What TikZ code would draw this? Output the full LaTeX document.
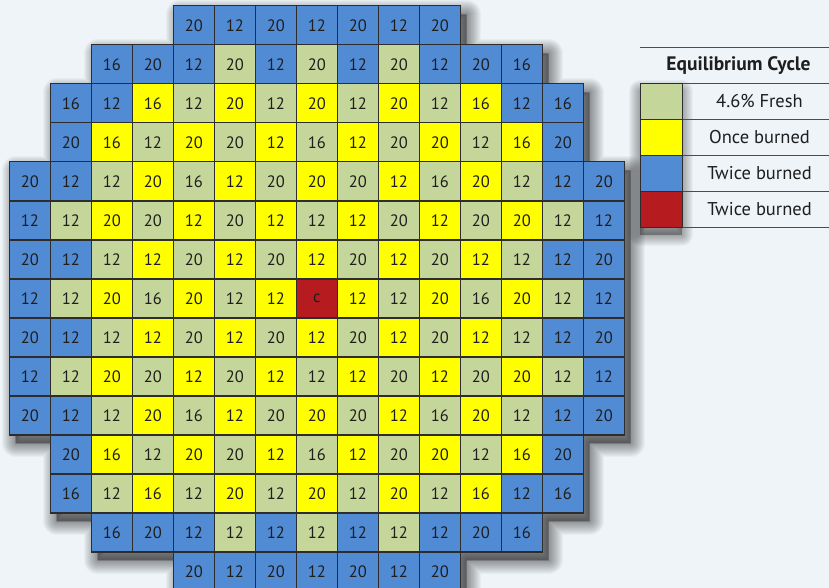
\documentclass[tikz,border=0pt]{standalone}
\usepackage{fontspec}
\setmainfont{PT Sans}
\definecolor{bg}{RGB}{238,244,248}
\definecolor{cB}{RGB}{81,139,212}
\definecolor{cG}{RGB}{197,214,155}
\definecolor{cY}{RGB}{255,255,0}
\definecolor{cR}{RGB}{181,27,31}
\definecolor{edge}{RGB}{45,45,45}
\definecolor{txt}{RGB}{30,30,30}
\tikzset{
  cell/.style={draw=edge, line width=1.2pt, minimum width=41pt, minimum height=39pt,
    anchor=north west, inner sep=0pt, font=\fontsize{16.5}{16.5}\selectfont, text=txt},
  swatch/.style={draw=edge, line width=1.1pt, minimum width=41.7pt, minimum height=36pt,
    anchor=north west, inner sep=0pt},
  legtext/.style={font=\fontsize{18.5}{18.5}\selectfont, text=txt, inner sep=0pt},
  legline/.style={draw=black!70, line width=0.8pt},
  shadowlayer/.style={black, opacity=0.032, line join=round}
}
\begin{document}
\begin{tikzpicture}[x=1pt,y=-1pt]
\fill[bg] (0,0) rectangle (829,588);
\useasboundingbox (0,0) rectangle (829,588);
\clip (0,0) rectangle (829,588);
% grid shadow
\foreach \w in {2,4,...,28}{
  \filldraw[shadowlayer, line width=\w pt, shift={(7,9)}]
    (172.7,5.3) -- (459.7,5.3) -- (459.7,44.3) -- (541.7,44.3) -- (541.7,83.3) -- (582.7,83.3)
    -- (582.7,161.3) -- (623.7,161.3) -- (623.7,434.3) -- (582.7,434.3) -- (582.7,512.3)
    -- (541.7,512.3) -- (541.7,551.3) -- (459.7,551.3) -- (459.7,590.3) -- (172.7,590.3)
    -- (172.7,551.3) -- (90.7,551.3) -- (90.7,512.3) -- (49.7,512.3) -- (49.7,434.3)
    -- (8.7,434.3) -- (8.7,161.3) -- (49.7,161.3) -- (49.7,83.3) -- (90.7,83.3)
    -- (90.7,44.3) -- (172.7,44.3) -- cycle;
}
% legend shadow
\foreach \w in {2,4,...,22}{
  \filldraw[shadowlayer, line width=\w pt, shift={(0,8)}] (640,83.3) rectangle (681.7,227.3);
}
% grid cells
\foreach \r/\s/\cells in {
0/4/{B/20,B/12,B/20,B/12,B/20,B/12,B/20},
1/2/{B/16,B/20,B/12,G/20,B/12,G/20,B/12,G/20,B/12,B/20,B/16},
2/1/{B/16,B/12,Y/16,G/12,Y/20,G/12,Y/20,G/12,Y/20,G/12,Y/16,B/12,B/16},
3/1/{B/20,Y/16,G/12,Y/20,G/20,Y/12,G/16,Y/12,G/20,Y/20,G/12,Y/16,B/20},
4/0/{B/20,B/12,G/12,Y/20,G/16,Y/12,G/20,Y/20,G/20,Y/12,G/16,Y/20,G/12,B/12,B/20},
5/0/{B/12,G/12,Y/20,G/20,Y/12,G/20,Y/12,G/12,Y/12,G/20,Y/12,G/20,Y/20,G/12,B/12},
6/0/{B/20,B/12,G/12,Y/12,G/20,Y/12,G/20,Y/12,G/20,Y/12,G/20,Y/12,G/12,B/12,B/20},
7/0/{B/12,G/12,Y/20,G/16,Y/20,G/12,Y/12,R/c,Y/12,G/12,Y/20,G/16,Y/20,G/12,B/12},
8/0/{B/20,B/12,G/12,Y/12,G/20,Y/12,G/20,Y/12,G/20,Y/12,G/20,Y/12,G/12,B/12,B/20},
9/0/{B/12,G/12,Y/20,G/20,Y/12,G/20,Y/12,G/12,Y/12,G/20,Y/12,G/20,Y/20,G/12,B/12},
10/0/{B/20,B/12,G/12,Y/20,G/16,Y/12,G/20,Y/20,G/20,Y/12,G/16,Y/20,G/12,B/12,B/20},
11/1/{B/20,Y/16,G/12,Y/20,G/20,Y/12,G/16,Y/12,G/20,Y/20,G/12,Y/16,B/20},
12/1/{B/16,G/12,Y/16,G/12,Y/20,G/12,Y/20,G/12,Y/20,G/12,Y/16,B/12,B/16},
13/2/{B/16,B/20,B/12,G/12,B/12,G/12,B/12,G/12,B/12,B/20,B/16},
14/4/{B/20,B/12,B/20,B/12,B/20,B/12,B/20}}{
  \foreach \cc/\v [count=\k from 0] in \cells {
    \pgfmathtruncatemacro\cn{\s+\k}
    \node[cell, fill=c\cc] (cell-\r-\cn) at ({8.7+41*\cn},{5.3+39*\r}) {\v};
  }
}
% legend
\coordinate (tl) at (640,47.3);
\coordinate (tr) at (829,47.3);
\draw[legline] (tl) -- (tr);
\node[font=\bfseries\fontsize{19.5}{19.5}\selectfont, text=txt, inner sep=0pt] (title) at (738.5,65.5) {Equilibrium Cycle};
\foreach \i/\col/\lab in {1/cG/{4.6\% Fresh},2/cY/{Once burned},3/cB/{Twice burned},4/cR/{Twice burned}}{
  \coordinate (ra\i) at (681.7,{83.3+36*(\i-1)});
  \coordinate (rb\i) at (829,{83.3+36*(\i-1)});
  \draw[legline] (ra\i) -- (rb\i);
  \node[legtext] (lg\i) at (759.5,{101.3+36*(\i-1)}) {\lab};
}
\coordinate (ra5) at (681.7,227.3);
\coordinate (rb5) at (829,227.3);
\draw[legline] (ra5) -- (rb5);
\foreach \i/\col in {1/cG,2/cY,3/cB,4/cR}{
  \node[swatch, fill=\col] (sw\i) at (640,{83.3+36*(\i-1)}) {};
}
\end{tikzpicture}
\end{document}
